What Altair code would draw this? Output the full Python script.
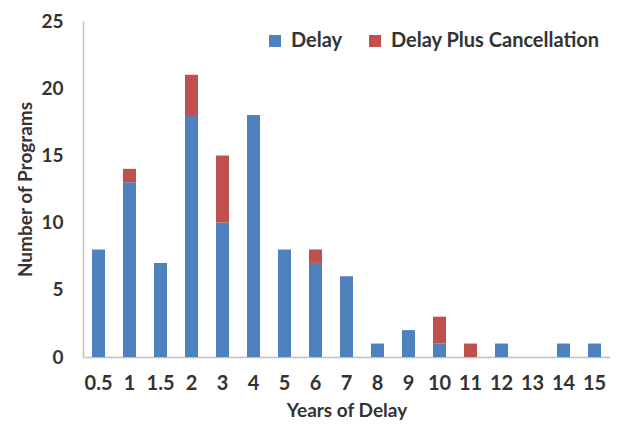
import altair as alt
import pandas as pd

years = ["0.5", "1", "1.5", "2", "3", "4", "5", "6", "7", "8", "9", "10", "11", "12", "13", "14", "15"]
delay = [8, 13, 7, 18, 10, 18, 8, 7, 6, 1, 2, 1, 0, 1, 0, 1, 1]
delay_cancel = [0, 1, 0, 3, 5, 0, 0, 1, 0, 0, 0, 2, 1, 0, 0, 0, 0]

series = ["Delay", "Delay Plus Cancellation"]
rows = []
for y, d, c in zip(years, delay, delay_cancel):
    rows.append({"year": y, "series": series[0], "value": d, "order": 0})
    rows.append({"year": y, "series": series[1], "value": c, "order": 1})
df = pd.DataFrame(rows)

FONT = "Lato"
TXT = "#333333"

chart = alt.Chart(df).mark_bar(size=13).encode(
    x=alt.X("year:N", sort=years, title="Years of Delay",
            scale=alt.Scale(paddingInner=0, paddingOuter=0),
            axis=alt.Axis(labelAngle=0, ticks=False, domainColor="#c0c0c0", domainWidth=1.5,
                          labelPadding=16, titlePadding=8, labelFontSize=20, titleFontSize=19,
                          labelFont=FONT, titleFont=FONT, labelFontWeight="bold", titleFontWeight="bold",
                          labelColor=TXT, titleColor=TXT)),
    y=alt.Y("value:Q", stack="zero", title="Number of Programs",
            scale=alt.Scale(domain=[0, 25]),
            axis=alt.Axis(values=[0, 5, 10, 15, 20, 25], grid=False, ticks=False,
                          domainColor="#c0c0c0", domainWidth=1.5, labelPadding=20, titlePadding=5,
                          labelFontSize=19, titleFontSize=19, labelFont=FONT, titleFont=FONT,
                          labelFontWeight="bold", titleFontWeight="bold",
                          labelColor=TXT, titleColor=TXT)),
    color=alt.Color("series:N", sort=series, title=None,
                    scale=alt.Scale(domain=series, range=["#4F81BD", "#C0504D"]),
                    legend=alt.Legend(orient="none", legendX=182, legendY=10, direction="horizontal",
                                      symbolType="square", symbolSize=144, symbolStrokeWidth=0,
                                      labelFontSize=20, labelFont=FONT, labelFontWeight="bold",
                                      labelLimit=0, labelColor=TXT, columnPadding=22, labelOffset=6)),
    order=alt.Order("order:Q"),
).properties(
    width=527, height=336,
    autosize=alt.AutoSizeParams(type="none"),
    padding={"left": 75, "top": 13, "right": 0, "bottom": 64},
).configure_view(stroke=None)

chart.save("out.html", embed_options={"renderer": "svg", "actions": False})
